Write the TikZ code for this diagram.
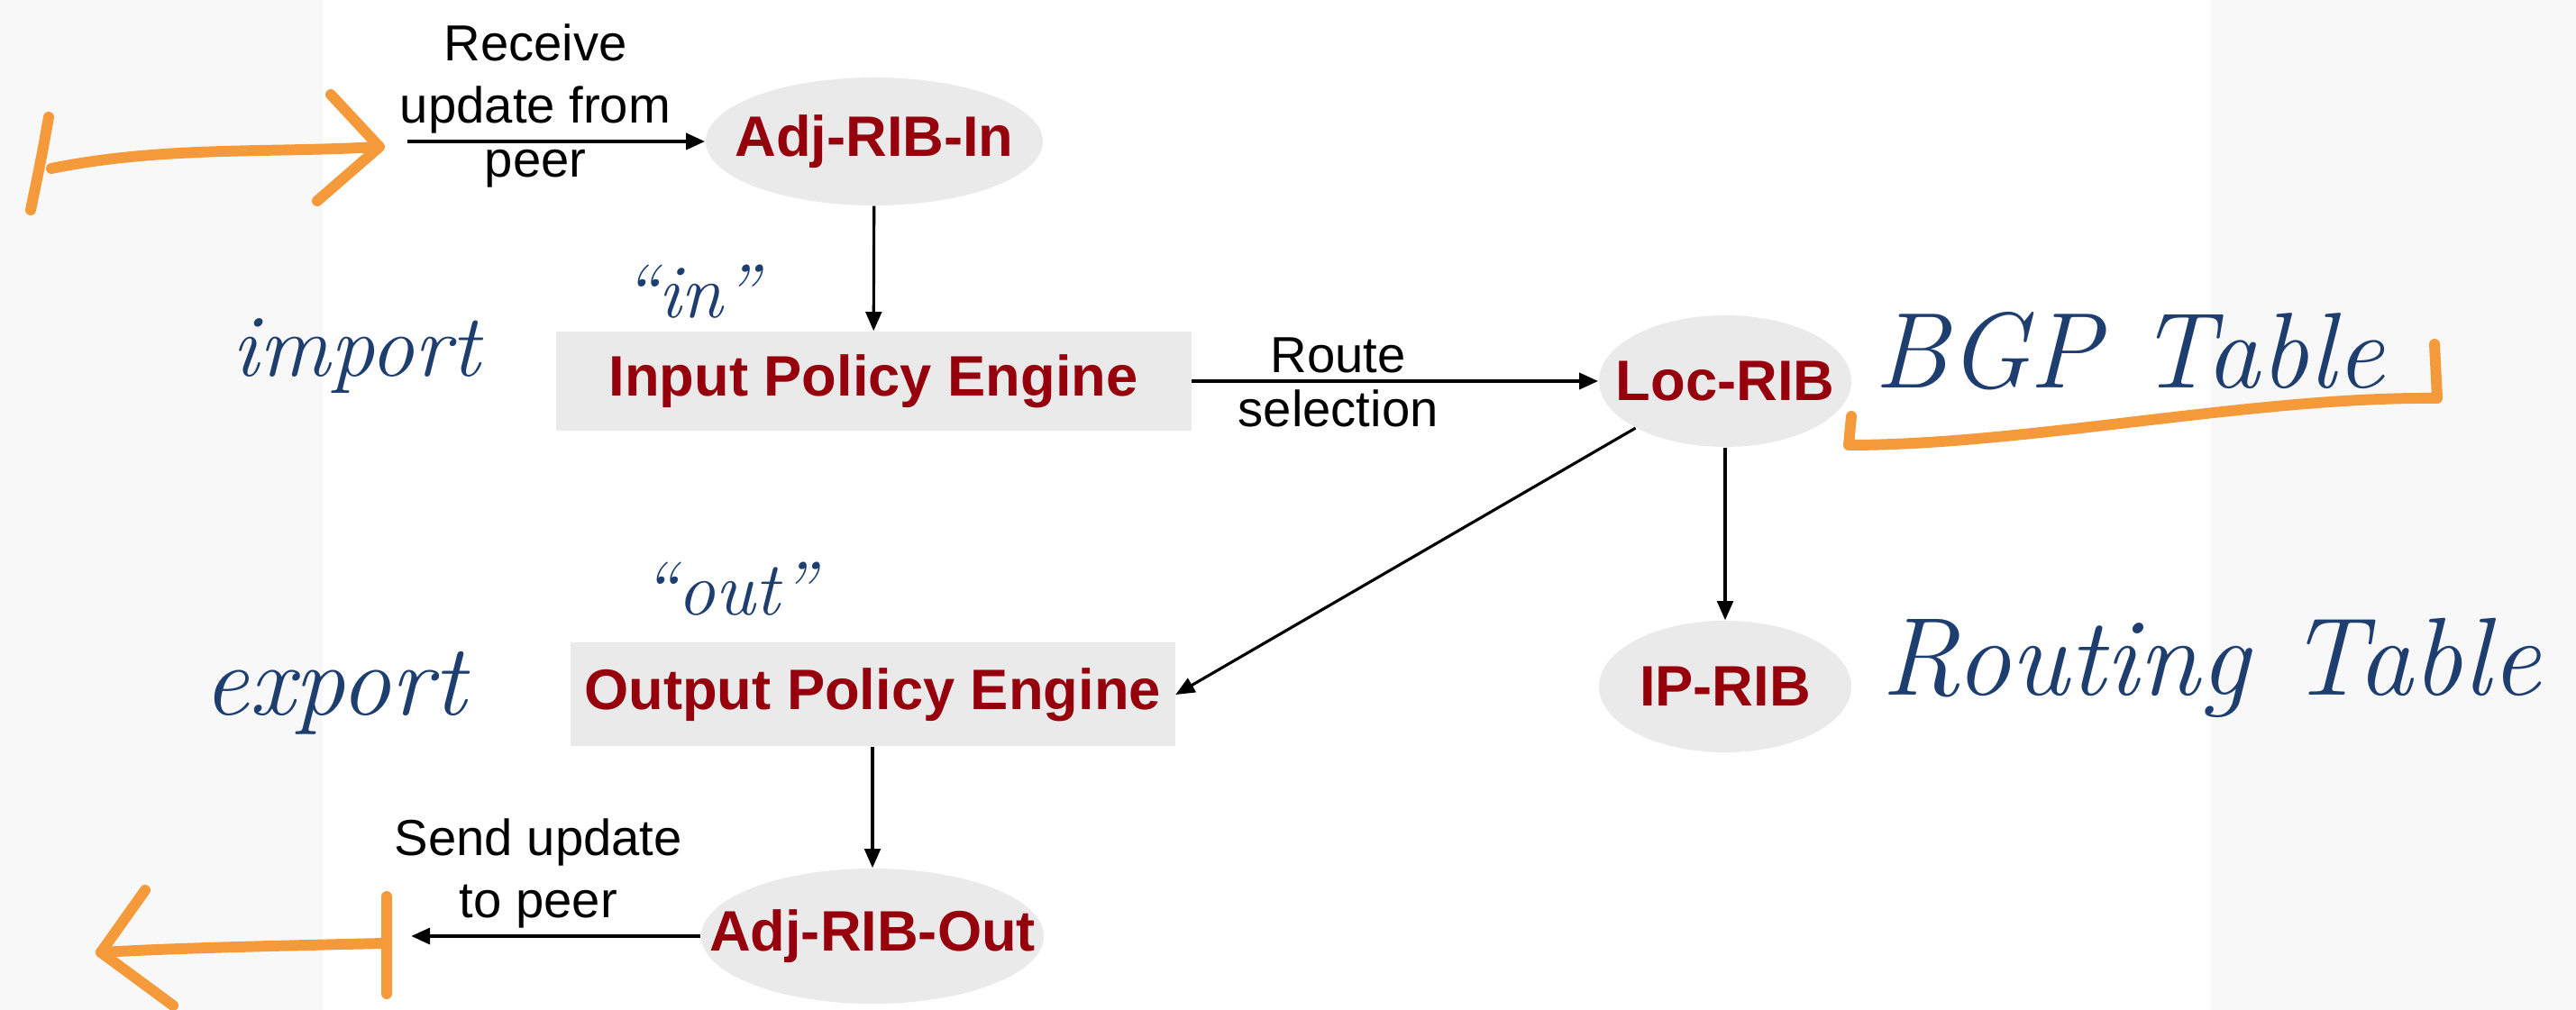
\documentclass[tikz,border=0pt]{standalone}
\usepackage{fontspec}
\usetikzlibrary{arrows.meta, shapes.geometric}
\newfontfamily\arialfont{Liberation Sans}
\definecolor{cRibRed}{RGB}{150,0,12}
\definecolor{cRibFill}{RGB}{234,234,234}
\definecolor{cInkBlue}{RGB}{30,62,112}
\definecolor{cInkOrange}{RGB}{244,154,58}
\definecolor{cPaper}{RGB}{248,248,248}

\begin{document}
\begin{tikzpicture}[
    rib/.style={ellipse, fill=cRibFill, inner sep=0pt},
    ribtext/.style={text=cRibRed, font=\arialfont\bfseries\fontsize{18}{21}\selectfont, inner sep=0pt},
    engine/.style={rectangle, fill=cRibFill, text=cRibRed, font=\arialfont\bfseries\fontsize{18}{21}\selectfont, inner sep=0pt},
    flow/.style={-{Triangle[length=6pt, width=5pt]}, line width=0.9pt},
    lbl/.style={font=\arialfont\fontsize{16}{19.5}\selectfont, align=center, inner sep=2pt},
    ink/.style={text=cInkBlue, font=\itshape\fontsize{#1}{#1}\selectfont, inner sep=0pt},
    scribble/.style={cInkOrange, line width=3.4pt, line cap=round, line join=round}]

            % paper
            \fill[white] (0,0) rectangle (28.58,-11.21);
            \fill[cPaper] (0,0) rectangle (3.58,-11.21);
            \fill[cPaper] (24.53,0) rectangle (28.58,-11.21);
            \useasboundingbox (0,0) rectangle (28.58,-11.21);

            \node[rib, minimum width=3.74cm, minimum height=1.42cm, label={[ribtext]center:Adj-RIB-In}] (adjin) at (9.70,-1.57) {};
            \node[engine, minimum width=7.05cm, minimum height=1.10cm] (inpol) at (9.69,-4.23) {Input Policy Engine};
            \node[rib, minimum width=2.80cm, minimum height=1.46cm, label={[ribtext]center:Loc-RIB}] (locrib) at (19.14,-4.23) {};
            \node[rib, minimum width=2.80cm, minimum height=1.46cm, label={[ribtext]center:IP-RIB}] (iprib) at (19.14,-7.62) {};
            \node[engine, minimum width=6.71cm, minimum height=1.15cm] (outpol) at (9.68,-7.71) {Output Policy Engine};
            \node[rib, minimum width=3.80cm, minimum height=1.50cm, label={[ribtext]center:Adj-RIB-Out}] (adjout) at (9.68,-10.39) {};

            \coordinate (peerin) at (4.52,-1.57);
            \coordinate (peerout) at (4.56,-10.39);

            \draw[flow, line width=1.3pt] (peerin) -- node[lbl, above, pos=0.43] {Receive\\update from} node[lbl, below, pos=0.43] {peer} (adjin);
            \draw[flow] (adjin) -- (inpol);
            \draw[flow, line width=1.3pt] (inpol) -- node[lbl, above, pos=0.36] {Route} node[lbl, below, pos=0.36] {selection} (locrib);
            \draw[flow] (locrib) -- (iprib);
            \draw[flow] (locrib.south west) -- (outpol.east);
            \draw[flow] (outpol) -- (adjout);
            \draw[flow, line width=1.3pt] (adjout) -- node[lbl, above, pos=0.56] {Send update\\to peer} (peerout);

            % handwriting
            \node[ink=28] (impnote) at (3.95,-3.95) {import};
            \node[ink=32] (expnote) at (3.71,-7.69) {export};
            \node[ink=24] (innote) at (7.66,-3.24) {``in''};
            \node[ink=24] (outnote) at (8.08,-6.54) {``out''};
            \node[ink=34] (bgpnote) at (23.62,-3.90) {BGP Table};
            \node[ink=35] (rtnote) at (24.53,-7.41) {Routing Table};

            \draw[scribble] (0.54,-1.30) .. controls (0.46,-1.75) .. (0.34,-2.33);
            \draw[scribble] (0.57,-1.87) .. controls (1.8,-1.62) and (3.0,-1.70) .. (4.19,-1.63);
            \draw[scribble] (3.67,-1.05) -- (4.21,-1.63) -- (3.52,-2.23);

            \draw[scribble] (4.29,-9.95) -- (4.29,-11.03);
            \draw[scribble] (4.25,-10.47) .. controls (3.0,-10.50) and (2.0,-10.52) .. (1.12,-10.57);
            \draw[scribble] (1.61,-9.88) -- (1.12,-10.57) -- (1.92,-11.16);

            \draw[scribble] (20.54,-4.62) -- (20.51,-4.94) .. controls (22.5,-4.94) and (25.0,-4.40) .. (27.04,-4.42) -- (27.01,-3.82);
            \end{tikzpicture}
\end{document}
